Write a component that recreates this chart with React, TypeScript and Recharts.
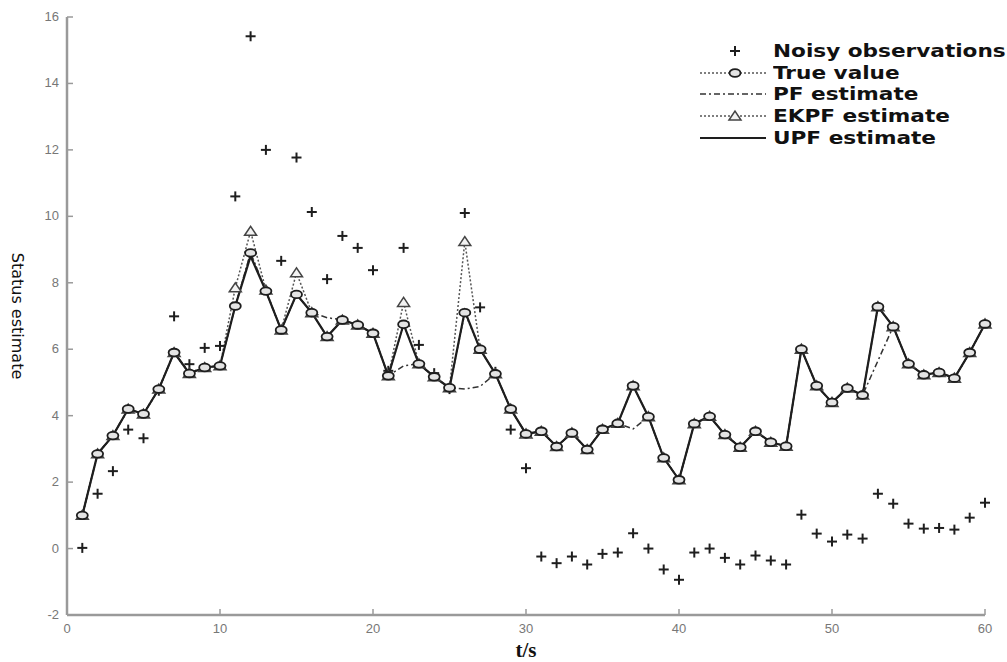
import { ComposedChart, Line, Scatter, XAxis, YAxis } from 'recharts';

const times = Array.from({ length: 60 }, (_, i) => i + 1);

const noisyObs = [
  0.02, 1.65, 2.33, 3.58, 3.32, 4.75, 6.99, 5.55, 6.04, 6.1,
  10.6, 15.42, 12.0, 8.66, 11.77, 10.13, 8.11, 9.41, 9.05, 8.38,
  5.35, 9.05, 6.13, 5.28, 4.8, 10.1, 7.26, 5.32, 3.58, 2.42,
  -0.24, -0.44, -0.24, -0.48, -0.16, -0.12, 0.46, 0.0, -0.63, -0.94,
  -0.12, 0.0, -0.28, -0.48, -0.21, -0.36, -0.48, 1.02, 0.45, 0.21,
  0.42, 0.3, 1.65, 1.35, 0.75, 0.6, 0.62, 0.57, 0.93, 1.38,
];

const trueValue = [
  1.0, 2.85, 3.4, 4.2, 4.05, 4.8, 5.9, 5.27, 5.45, 5.5,
  7.3, 8.9, 7.75, 6.58, 7.65, 7.1, 6.38, 6.88, 6.73, 6.48,
  5.2, 6.75, 5.56, 5.17, 4.84, 7.1, 6.0, 5.26, 4.2, 3.45,
  3.53, 3.07, 3.48, 2.98, 3.59, 3.77, 4.9, 3.97, 2.73, 2.07,
  3.76, 3.98, 3.43, 3.05, 3.53, 3.2, 3.08, 6.0, 4.9, 4.4,
  4.83, 4.62, 7.28, 6.68, 5.56, 5.23, 5.3, 5.13, 5.9, 6.76,
];

const pfEstimate = [
  1.0, 2.85, 3.4, 4.2, 4.05, 4.8, 5.9, 5.3, 5.45, 5.5,
  7.3, 8.9, 7.75, 6.58, 7.65, 7.1, 6.95, 6.88, 6.73, 6.48,
  5.2, 5.5, 5.56, 5.17, 4.84, 4.8, 4.88, 5.26, 4.2, 3.45,
  3.53, 3.07, 3.48, 2.98, 3.59, 3.77, 3.6, 3.97, 2.73, 2.07,
  3.76, 3.98, 3.43, 3.05, 3.53, 3.2, 3.08, 6.0, 4.9, 4.4,
  4.83, 4.62, 5.65, 6.68, 5.56, 5.23, 5.3, 5.13, 5.9, 6.76,
];

const ekpfEstimate = [
  1.0, 2.85, 3.4, 4.2, 4.05, 4.8, 5.9, 5.27, 5.45, 5.5,
  7.85, 9.55, 7.78, 6.58, 8.3, 7.1, 6.38, 6.88, 6.73, 6.48,
  5.2, 7.41, 5.56, 5.17, 4.84, 9.24, 6.0, 5.26, 4.2, 3.45,
  3.53, 3.07, 3.48, 2.98, 3.59, 3.77, 4.9, 3.97, 2.73, 2.07,
  3.76, 3.98, 3.43, 3.05, 3.53, 3.2, 3.08, 6.0, 4.9, 4.4,
  4.83, 4.62, 7.28, 6.68, 5.56, 5.23, 5.3, 5.13, 5.9, 6.76,
];

const upfEstimate = [
  1.0, 2.85, 3.4, 4.2, 4.05, 4.8, 5.9, 5.27, 5.45, 5.5,
  7.3, 8.8, 7.75, 6.58, 7.65, 7.1, 6.38, 6.88, 6.73, 6.48,
  5.2, 6.75, 5.56, 5.17, 4.84, 7.15, 6.0, 5.26, 4.2, 3.45,
  3.53, 3.07, 3.48, 2.98, 3.59, 3.77, 4.9, 3.97, 2.73, 2.07,
  3.76, 3.98, 3.43, 3.05, 3.53, 3.2, 3.08, 6.0, 4.9, 4.4,
  4.83, 4.62, 7.28, 6.68, 5.56, 5.23, 5.3, 5.13, 5.9, 6.76,
];

const xTicks = [0, 10, 20, 30, 40, 50, 60];
const yTicks = [-2, 0, 2, 4, 6, 8, 10, 12, 14, 16];

const legendItems = [
  { key: 'noisy', label: 'Noisy observations' },
  { key: 'true', label: 'True value' },
  { key: 'pf', label: 'PF estimate' },
  { key: 'ekpf', label: 'EKPF estimate' },
  { key: 'upf', label: 'UPF estimate' },
];

const data = times.map((t, i) => ({
  t,
  noisy: noisyObs[i],
  trueVal: trueValue[i],
  pf: pfEstimate[i],
  ekpf: ekpfEstimate[i],
  upf: upfEstimate[i],
}));

const INK = '#1e1e1e';
const AXIS = '#9a9a9a';
const PLOT_LEFT = 67;
const PLOT_BOTTOM = 615;

const PlusShape = (props: any) => {
  const { cx, cy } = props;
  if (cx == null || cy == null) return null;
  return (
    <g stroke={INK} strokeWidth={2}>
      <line x1={cx - 5} y1={cy} x2={cx + 5} y2={cy} />
      <line x1={cx} y1={cy - 5} x2={cx} y2={cy + 5} />
    </g>
  );
};

const CircleDot = (props: any) => {
  const { cx, cy, index } = props;
  if (cx == null || cy == null) return null;
  return <ellipse key={index} cx={cx} cy={cy} rx={5.5} ry={3.8} fill="#e4e4e4" stroke={INK} strokeWidth={1.8} />;
};

const TriangleDot = (props: any) => {
  const { cx, cy, index } = props;
  if (cx == null || cy == null) return null;
  return (
    <path
      key={index}
      d={`M${cx - 6},${cy + 4} L${cx},${cy - 5} L${cx + 6},${cy + 4} Z`}
      fill="#f2f2f2"
      stroke="#444"
      strokeWidth={1.5}
    />
  );
};

const XTick = (props: any) => {
  const { x, payload } = props;
  return (
    <g>
      <line x1={x} y1={PLOT_BOTTOM} x2={x} y2={PLOT_BOTTOM - 6} stroke={AXIS} strokeWidth={1.5} />
      <text x={x} y={PLOT_BOTTOM + 18} textAnchor="middle" fill="#777" fontSize={13} fontFamily="Liberation Sans, sans-serif">
        {payload.value}
      </text>
    </g>
  );
};

const YTick = (props: any) => {
  const { y, payload } = props;
  return (
    <g>
      <line x1={PLOT_LEFT} y1={y} x2={PLOT_LEFT + 6} y2={y} stroke={AXIS} strokeWidth={1.5} />
      <text x={PLOT_LEFT - 8} y={y + 4} textAnchor="end" fill="#777" fontSize={13} fontFamily="Liberation Sans, sans-serif">
        {payload.value}
      </text>
    </g>
  );
};

const LegendSymbol = ({ kind }: { kind: string }) => {
  const y = 10;
  if (kind === 'noisy') {
    return (
      <g stroke={INK} strokeWidth={2}>
        <line x1={30} y1={y} x2={40} y2={y} />
        <line x1={35} y1={y - 5} x2={35} y2={y + 5} />
      </g>
    );
  }
  if (kind === 'true') {
    return (
      <g>
        <line x1={0} y1={y} x2={66} y2={y} stroke="#555" strokeWidth={1.5} strokeDasharray="2 2" />
        <ellipse cx={35} cy={y} rx={5.5} ry={3.8} fill="#e4e4e4" stroke={INK} strokeWidth={1.8} />
      </g>
    );
  }
  if (kind === 'pf') {
    return <line x1={0} y1={y} x2={66} y2={y} stroke="#333" strokeWidth={1.5} strokeDasharray="6 3 2 3" />;
  }
  if (kind === 'ekpf') {
    return (
      <g>
        <line x1={0} y1={y} x2={66} y2={y} stroke="#555" strokeWidth={1.5} strokeDasharray="2 2" />
        <path d={`M29,${y + 4} L35,${y - 5} L41,${y + 4} Z`} fill="#f2f2f2" stroke="#444" strokeWidth={1.5} />
      </g>
    );
  }
  return <line x1={0} y1={y} x2={66} y2={y} stroke={INK} strokeWidth={2} />;
};

const LegendBox = () => (
  <div
    style={{
      position: 'absolute',
      left: 700,
      top: 40,
      fontFamily: 'DejaVu Sans, sans-serif',
      fontWeight: 'bold',
      fontSize: 18,
      color: '#111',
      pointerEvents: 'none',
    }}
  >
    {legendItems.map((item) => (
      <div key={item.key} style={{ display: 'flex', alignItems: 'center', height: 21.8, whiteSpace: 'nowrap' }}>
        <svg width={73} height={20} style={{ flex: 'none' }}>
          <LegendSymbol kind={item.key} />
        </svg>
        <span style={{ display: 'inline-block', lineHeight: '20px', transform: 'scaleX(1.2)', transformOrigin: 'left center' }}>
          {item.label}
        </span>
      </div>
    ))}
  </div>
);

export default function App() {
  return (
    <div style={{ position: 'absolute', left: 0, top: 0, width: 1007, height: 662, background: '#fff' }}>
      <ComposedChart width={1007} height={662} data={data} margin={{ top: 17, right: 22, left: 27, bottom: 17 }}>
        <XAxis
          dataKey="t"
          type="number"
          domain={[0, 60]}
          ticks={xTicks}
          height={30}
          stroke={AXIS}
          strokeWidth={2.5}
          tickLine={false}
          tick={<XTick />}
          label={{ value: 't/s', position: 'insideBottom', offset: -12, fill: '#111', fontSize: 21, fontWeight: 'bold', fontFamily: 'Liberation Serif, serif' }}
        />
        <YAxis
          type="number"
          domain={[-2, 16]}
          ticks={yTicks}
          width={40}
          stroke={AXIS}
          strokeWidth={2.5}
          tickLine={false}
          tick={<YTick />}
          label={{ value: 'Status estimate', angle: 90, position: 'insideLeft', offset: -9, textAnchor: 'middle', fill: '#111', fontSize: 16, fontFamily: 'DejaVu Sans, sans-serif' }}
        />
        <Scatter dataKey="noisy" shape={<PlusShape />} isAnimationActive={false} legendType="none" />
        <Line
          dataKey="pf"
          stroke="#333"
          strokeWidth={1.5}
          strokeDasharray="6 3 2 3"
          dot={false}
          activeDot={false}
          isAnimationActive={false}
          type="linear"
        />
        <Line
          dataKey="ekpf"
          stroke="#555"
          strokeWidth={1.5}
          strokeDasharray="2 2"
          dot={<TriangleDot />}
          activeDot={false}
          isAnimationActive={false}
          type="linear"
        />
        <Line
          dataKey="trueVal"
          stroke="#555"
          strokeWidth={1.5}
          strokeDasharray="2 2"
          dot={<CircleDot />}
          activeDot={false}
          isAnimationActive={false}
          type="linear"
        />
        <Line
          dataKey="upf"
          stroke={INK}
          strokeWidth={2.2}
          dot={false}
          activeDot={false}
          isAnimationActive={false}
          type="linear"
        />
      </ComposedChart>
      <LegendBox />
    </div>
  );
}
